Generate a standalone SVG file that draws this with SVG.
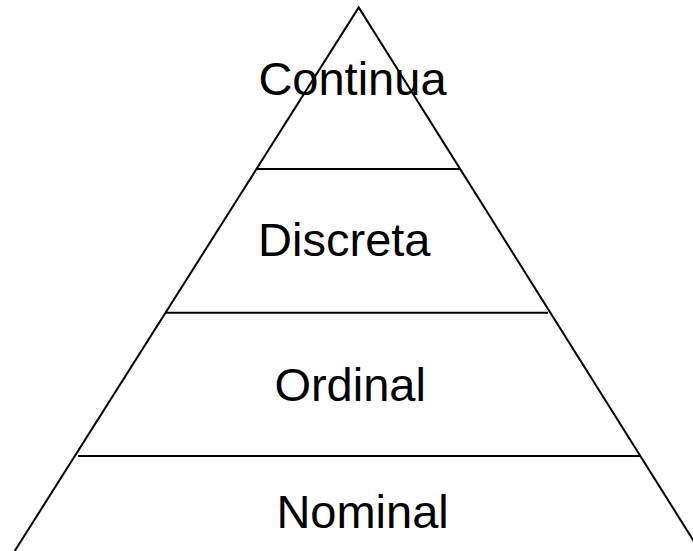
<svg xmlns="http://www.w3.org/2000/svg" width="693" height="551" viewBox="0 0 693 551">
<style>
.ln{stroke:#000;stroke-width:2;fill:none}
.lbl{font-family:"Liberation Sans",Arial,sans-serif;font-size:47px;fill:#000}
</style>
<rect width="693" height="551" fill="#fff"/>
<g id="connectors">
<path class="ln" d="M14.7,551 L358.7,7.5 L700,551"/>
<line class="ln" x1="257" y1="169" x2="460" y2="169"/>
<line class="ln" x1="166" y1="312.7" x2="548" y2="312.7"/>
<line class="ln" x1="78" y1="456" x2="640" y2="456"/>
</g>
<g id="continua"><text class="lbl" x="258.4" y="95.3">Continua</text></g>
<g id="discreta"><text class="lbl" x="258.1" y="255.7">Discreta</text></g>
<g id="ordinal"><text class="lbl" x="274.4" y="400.7">Ordinal</text></g>
<g id="nominal"><text class="lbl" x="276.4" y="528.3">Nominal</text></g>
</svg>
